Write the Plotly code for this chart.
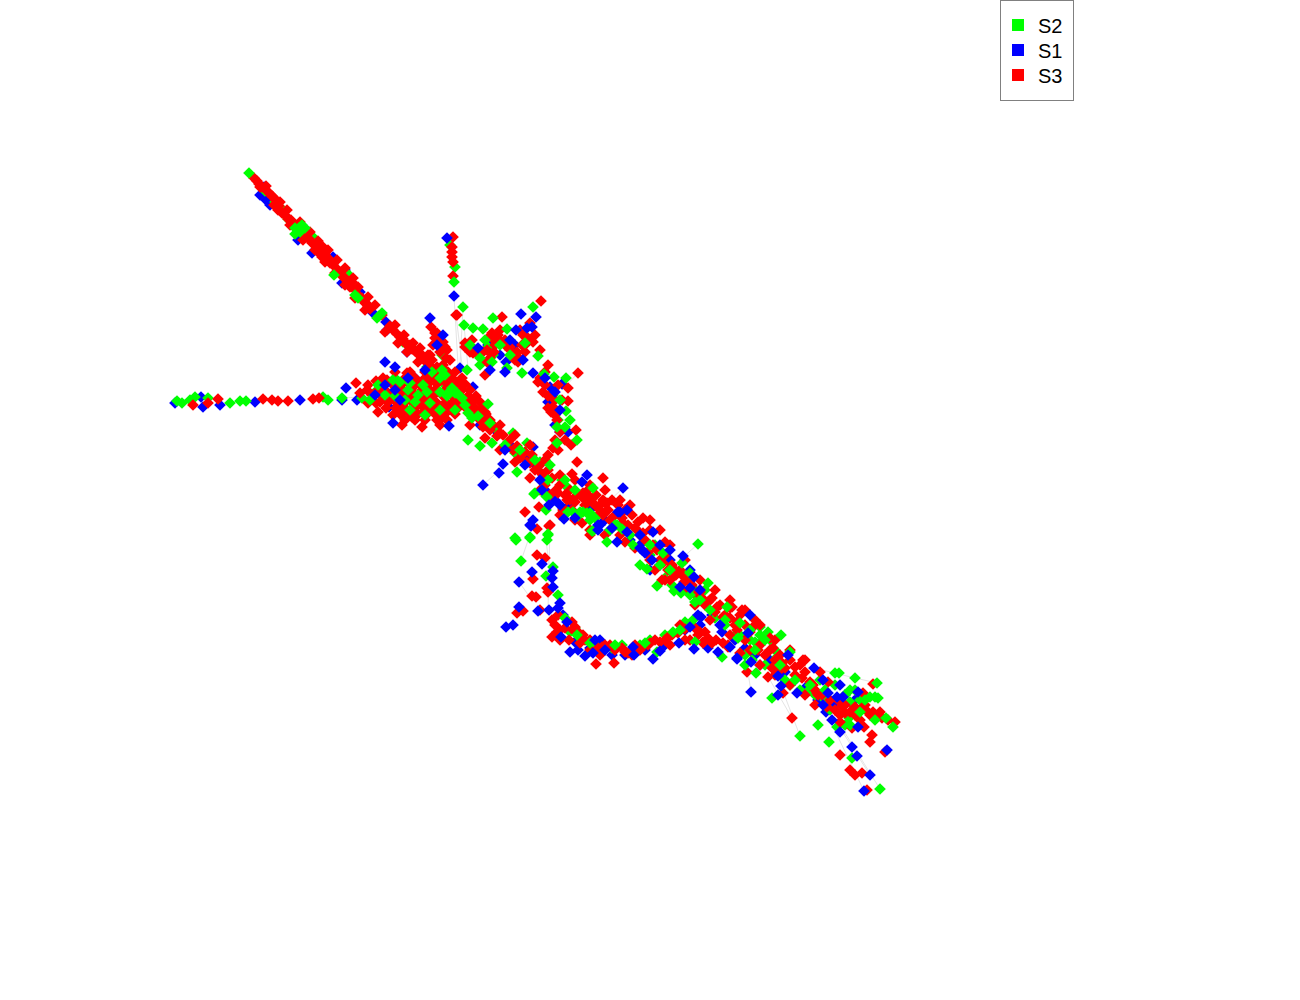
import plotly.graph_objects as go

series_names = ["S2", "S1", "S3"]
series_colors = {"S2": "#00ff00", "S1": "#0000ff", "S3": "#ff0000"}

s1_points = [
(264,187),(260,195),(270,205),(266,200),(298,240),(312,253),(318,245),(333,257),(342,283),(345,270),(360,292),(373,313),(386,322),(387,330),(407,352),(385,362),
(175,403),(201,397),(203,407),(220,405),(255,402),(300,400),(342,400),(346,388),(357,400),
(460,368),(462,384),(473,387),(506,362),(533,373),(562,384),(550,387),(548,402),(568,432),(533,447),(389,407),(402,413),(415,378),(440,380),(425,395),(455,405),(410,395),(500,355),(488,345),(515,345),(555,425),(560,432),
(480,425),(495,430),(510,445),(525,458),(535,465),(545,490),(555,500),(570,505),(590,510),(600,525),(610,530),(620,525),(605,520),(630,540),(640,545),(650,570),(660,565),(670,560),(675,575),(690,570),(700,600),(712,615),(722,632),(735,640),(745,648),(755,655),(760,665),(770,660),(785,672),(795,680),(805,688),(818,700),(826,712),(835,705),(845,695),(855,700),
(563,615),(575,642),(578,650),(590,648),(600,640),(612,655),(625,655),(645,650),(665,645),(685,630),(700,625),(708,648),
]

s1_top_points = [
(395,367),(393,423),(449,426),(447,238),(454,296),(430,318),(443,335),(437,345),(521,314),(536,317),(516,330),(532,327),(503,464),(499,473),(483,485),(587,475),(582,482),(623,488),(627,510),(564,519),(549,505),(533,520),(530,525),(598,525),(620,512),(540,480),(542,490),
(531,526),(575,518),(598,530),(618,512),(653,532),(627,532),(617,542),(642,550),(645,553),(640,548),(670,550),(683,556),(652,560),(694,577),(680,587),(690,588),
(542,564),(532,572),(553,571),(519,582),(552,578),(553,587),(560,603),(558,608),(549,610),(538,611),(519,607),(506,627),(513,625),(561,637),(567,622),(570,652),(585,656),(593,653),(595,640),(605,650),(634,655),(633,647),(653,659),(660,651),(679,643),(694,649),(690,627),(701,617),(698,615),(718,652),(737,659),(730,647),
(751,692),(737,658),(751,662),(748,633),(788,655),(778,676),(781,686),(778,695),(797,693),(814,668),(823,680),(823,705),(828,693),(837,697),(843,697),(832,720),(840,732),(852,747),(857,756),(870,775),(864,791),(887,750),(858,692),(858,727),(720,625),(750,615),(840,685),
(385,385),(395,390),(400,400),(375,395),(408,378),(425,370),(478,348),(510,340),(527,328),(490,370),(505,372),(523,360),(555,392),(545,378),(560,410),(505,450),(525,465),(560,505),(612,528),(640,535),(660,545),(700,590),
]

s2_points = [
(265,191),(275,202),(283,210),(288,219),(312,236),(320,247),(347,273),(427,367),(415,350),(403,342),
(177,401),(182,403),(190,400),(195,397),(208,398),(230,403),(240,401),(246,401),(328,400),(323,397),(342,398),(362,398),(375,392),
(450,245),(455,267),
(480,365),(488,347),(493,355),(507,368),(522,373),(467,370),(442,355),(426,390),(400,397),(413,403),(395,378),(553,395),(495,428),(492,443),(515,453),(540,462),(562,480),(567,487),(513,433),(527,443),(435,378),(445,385),(558,420),
(740,635),(755,642),(763,640),(760,627),(768,632),(777,657),(790,685),(808,691),(820,680),(835,685),(830,710),(850,690),(850,702),(849,718),(837,727),
(650,555),(640,565),(655,545),(665,578),(672,585),(685,575),(695,590),(705,590),(715,618),(725,625),(735,635),(750,640),(760,635),(770,640),(775,650),(745,655),(752,660),(765,665),(785,680),(800,690),(815,695),(825,700),(840,700),(845,725),(860,700),(875,697),
(570,632),(582,640),(595,645),(600,652),(612,648),(622,645),(640,645),(650,640),(665,635),(685,622),(575,628),
]

s2_top_points = [
(249,173),(295,228),(300,232),(302,225),(295,234),(299,228),(305,228),(334,275),(355,295),(358,298),(377,318),(382,313),(379,316),(454,282),
(463,307),(533,307),(493,318),(464,325),(473,328),(483,329),(507,329),(538,356),(544,374),(554,377),(566,378),(488,404),(468,440),(480,446),(577,440),(566,411),(565,427),(557,427),(557,443),(517,472),(535,493),(547,497),(593,488),(515,538),(530,537),(548,535),(580,512),(573,512),(587,513),(615,525),(593,531),
(448,393),(457,393),(452,388),(440,392),(447,396),(455,393),(462,398),(430,403),(415,402),(405,400),(423,385),(410,383),(395,396),(440,378),(442,370),(427,392),(408,390),(393,380),(468,413),(472,418),(478,416),
(534,494),(546,496),(546,510),(548,534),(516,540),(530,538),(547,540),(521,561),(553,567),(546,576),(558,595),(565,618),(577,635),(590,643),(615,645),(645,643),(657,652),(673,632),(680,630),(693,620),(695,642),(722,657),(708,583),(698,544),(657,586),(647,569),(674,591),(681,593),(695,602),(663,553),(682,563),(690,573),(607,542),(592,531),(617,525),(622,529),(633,545),(583,512),(578,516),(568,512),(590,513),(595,518),(670,570),(700,600),(727,607),(740,623),(738,638),
(745,665),(756,673),(781,635),(790,652),(772,698),(818,725),(800,736),(829,742),(852,758),(880,789),(835,673),(839,673),(855,678),(877,683),(878,698),(886,718),(893,727),(870,697),
(385,395),(370,400),(378,385),(400,382),(418,395),(440,410),(425,415),(410,410),(455,410),(465,405),(445,375),(432,372),
(470,345),(485,340),(500,345),(492,362),(480,358),(510,355),(525,343),(560,400),(570,420),
(490,423),(505,445),(520,450),(535,460),(550,465),(548,480),(565,480),(575,490),(590,520),(610,530),(630,535),(650,545),(660,565),(690,595),(710,610),(725,620),(750,630),(755,650),(765,640),(780,665),(795,680),(810,685),(825,690),(845,695),(855,690),(865,700),(850,725),(875,720),(860,712),
]

s3_points = [
(257,181),(260,187),(273,197),(270,194),(278,210),(282,213),(293,223),(295,225),(291,220),(305,234),(312,243),(323,247),(322,257),(318,252),(327,260),(330,263),(340,272),(343,277),(350,287),(352,282),(360,297),(363,300),(368,307),(365,303),(393,330),(397,334),(400,337),(408,345),(412,349),(422,357),(427,363),
(254,178),(259,184),(262,187),(268,192),(272,196),(276,200),(279,206),(285,215),(288,219),(297,228),(299,231),(302,232),(308,238),(311,241),(315,245),(319,249),(325,254),(329,259),(333,264),(336,268),(345,278),(348,283),(355,290),(357,294),(362,298),(366,303),(370,309),(390,326),(403,339),(405,343),(410,347),(415,351),(418,354),(425,360),(430,366),(433,369),(437,373),
(266,186),(280,202),(287,210),(300,222),(310,232),(318,241),(328,250),(337,260),(345,268),(353,278),(358,287),(368,297),(375,305),(382,315),(395,325),(404,335),(413,343),(420,348),(430,355),(274,205),(290,225),(303,240),(315,250),(325,262),(335,273),(345,285),(355,298),(365,310),(385,332),(398,343),(407,352),(418,362),(428,372),
(193,405),(208,403),(218,399),(263,399),(272,400),(278,401),(288,401),(313,399),(319,398),(356,383),(367,390),(376,381),(368,403),(376,403),(387,380),
(453,237),(452,247),(452,252),(452,257),(453,262),(453,276),(456,315),
(541,301),(502,317),(457,315),(530,323),(492,333),(498,335),(465,343),(472,340),(505,345),(527,343),(523,335),(473,353),(478,355),(483,352),(517,352),(518,357),(510,350),(487,362),(485,375),(548,365),(578,373),(538,382),(543,392),(568,388),(568,401),(553,407),(555,415),(576,430),(571,445),(577,462),(558,450),(548,455),(553,448),
(465,347),(470,352),(475,350),(481,353),(487,350),(490,336),(494,340),(500,330),(497,338),(505,340),(510,347),(513,353),(518,362),(522,345),(528,338),(533,342),(525,352),(515,360),(490,358),(494,352),(540,378),(545,385),(548,396),(555,400),(551,412),(557,420),
(495,345),(520,330),(535,335),(540,350),(545,372),(558,385),(562,400),(548,408),(560,432),(565,440),(555,440),
(431,327),(435,338),(440,341),(437,333),(443,342),(433,345),(447,350),(440,352),(446,358),(450,360),(432,360),(428,355),
(603,478),(572,474),(525,512),(539,507),(550,525),(537,529),(582,523),(607,503),(567,500),(563,510),(583,493),(588,497),(558,493),
(540,472),(530,463),(522,453),(508,442),(500,433),(483,427),(473,412),(460,405),(442,418),(448,372),(437,367),(420,353),(410,345),(435,333),(445,347),(407,373),(413,387),(423,403),(412,417),(387,392),(400,407),(433,407),(397,387),(430,390),(452,403),(433,377),(460,380),(480,412),(423,413),(443,365),
(410,372),(425,372),(438,372),(447,372),(455,372),
(405,378),(415,378),(425,378),(432,378),(442,378),(452,378),(462,378),
(385,384),(392,384),(402,384),(410,384),(420,384),(428,384),(437,384),(447,384),(457,384),(465,384),
(378,390),(384,390),(395,390),(403,390),(411,390),(422,390),(435,390),(445,390),(452,390),(462,390),(470,390),
(382,396),(392,396),(398,396),(408,396),(416,396),(425,396),(433,396),(443,396),(452,396),(460,396),(468,396),(476,396),
(380,402),(388,402),(396,402),(405,402),(412,402),(420,402),(428,402),(436,402),(446,402),(455,402),(465,402),(472,402),(480,402),
(386,408),(396,408),(405,408),(415,408),(424,408),(432,408),(441,408),(450,408),(458,408),(466,408),(475,408),(483,408),
(400,414),(410,414),(418,414),(427,414),(435,414),(445,414),(455,414),(470,414),(478,414),(486,414),
(405,420),(415,420),(425,420),(437,420),(447,420),(480,420),(490,420),
(372,395),(368,385),(395,372),(360,393),(383,378),(402,425),(422,427),(440,425),(393,415),(378,412),
(470,410),(476,415),(482,420),(478,412),(485,425),(490,430),(493,425),(497,436),(503,435),(506,447),(510,440),(513,450),(517,446),(520,458),(525,452),(527,462),(532,455),(535,470),(540,465),(543,475),(548,470),(545,485),(552,478),(556,490),(550,495),(560,485),(565,495),(570,490),(575,502),(572,510),(580,495),(585,505),(588,490),(592,502),(596,495),(600,505),(598,515),(603,500),(608,510),(612,500),(615,515),(618,505),(622,518),(625,510),(628,525),(632,515),(635,528),(640,535),(638,522),(645,540),(650,530),(653,545),(648,552),(657,550),(660,560),(655,570),(665,555),(668,570),(672,565),(676,575),(670,580),(680,570),(684,582),(688,590),(692,585),(696,595),(702,598),(705,605),(712,598),(715,612),(720,605),(725,615),(730,608),(735,625),(740,615),(745,625),(750,632),(755,620),(745,640),(750,650),(760,645),(765,655),(770,650),(775,660),(780,655),(785,668),(790,660),(795,675),(800,665),(805,672),(810,682),(815,690),(822,695),(830,700),(835,710),(838,700),(845,705),(850,712),(855,715),(860,720),(865,705),(870,715),(875,715),(880,712),(888,720),
(470,400),(485,412),(500,425),(515,435),(530,445),(545,460),(560,475),(575,480),(590,485),(605,490),(620,500),(630,505),(650,520),(660,530),(670,545),(685,560),(700,580),(715,590),(730,600),(745,610),(760,625),(775,640),(790,650),(805,660),(820,672),
(470,425),(485,438),(500,450),(515,462),(530,478),(540,490),(560,515),(575,520),(590,535),(605,535),(620,535),(635,548),(650,560),(665,580),(680,590),(695,605),(710,620),(730,635),(760,665),(775,675),(790,685),(805,695),(815,705),
(549,526),(537,555),(545,558),(533,579),(547,588),(548,592),(532,596),(536,597),(517,613),(523,611),(540,610),(558,615),(572,622),(573,630),(552,637),(557,632),(569,640),(580,643),(583,635),(596,664),(614,663),(602,647),(610,645),(622,648),(628,653),(642,647),(648,645),(660,642),(668,637),(685,629),(685,640),(698,635),(705,632),(703,643),(712,643),(723,643),(728,647),
(555,625),(560,630),(565,628),(575,627),(578,632),(585,640),(590,650),(598,648),(605,645),(615,650),(625,652),(632,655),(640,650),(650,643),(655,640),(665,640),(672,635),(678,633),(690,640),(695,628),(700,632),(708,638),(716,640),
(552,620),(560,640),(590,640),(600,655),(635,645),(670,645),(680,625),
(563,508),(570,500),(575,497),(583,498),(590,497),(595,505),(605,503),(603,515),(610,520),(590,530),(600,510),(625,542),(623,523),(637,530),(643,518),(643,533),(647,553),(665,542),(663,563),(675,570),(682,575),(662,580),(687,580),(700,590),(710,600),(717,607),(730,618),(723,617),(737,622),
(747,672),(792,718),(840,755),(885,752),(850,770),(855,775),(862,773),(867,790),(872,735),(870,742),(864,727),(852,728),(873,684),(863,693),(895,722),(882,718),(873,712),(868,712),(862,708),(855,707),(842,706),(840,715),(840,722),(828,682),(817,693),(813,685),(802,678),(803,660),(795,667),(782,663),(768,677),(772,668),(758,650),(773,648),(753,627),(742,610),(737,630),(728,645),(740,653),(703,642),(700,592),(708,602),(732,607),(783,693),(818,695),(827,707),(770,638),(780,670),(845,713),
]

edge_segments = [
((751,692),(748,672)),((781,686),(800,736)),((792,718),(770,680)),((864,791),(825,710)),((870,775),(835,720)),((880,789),(840,725)),
((814,668),(855,678)),((855,678),(877,683)),((550,525),(548,610)),((546,540),(552,590)),((521,561),(535,520)),((519,582),(532,600)),
((454,296),(458,365)),((463,307),(460,365)),((464,325),(468,368)),((456,315),(462,365)),((480,446),(500,430)),((483,485),(505,465)),((623,488),(605,505)),((698,544),(680,560)),
((540,301),(525,330)),((578,373),(562,390)),((720,625),(745,640)),((700,630),(725,645)),((420,350),(455,385)),((342,398),(400,395)),
]

edge_x, edge_y = [], []
for a, b in edge_segments:
    edge_x += [a[0], b[0], None]
    edge_y += [a[1], b[1], None]

layers = [("S1", s1_points), ("S2", s2_points), ("S3", s3_points), ("S2", s2_top_points), ("S1", s1_top_points)]

fig = go.Figure()
fig.add_trace(go.Scatter(x=edge_x, y=edge_y, mode="lines", showlegend=False, hoverinfo="skip",
                         line=dict(color="#e4e4e4", width=1)))
for name, pts in layers:
    fig.add_trace(go.Scatter(x=[p[0] for p in pts], y=[p[1] for p in pts], mode="markers", name=name,
                             showlegend=False,
                             marker=dict(symbol="diamond", size=9, color=series_colors[name], line=dict(width=0))))
for rank, name in enumerate(series_names):
    fig.add_trace(go.Scatter(x=[None], y=[None], mode="markers", name=name, legendrank=rank + 1,
                             marker=dict(symbol="square", size=10, color=series_colors[name], line=dict(width=0))))

fig.update_layout(
    width=1300, height=1000, margin=dict(l=0, r=0, t=0, b=0),
    paper_bgcolor="white", plot_bgcolor="white",
    xaxis=dict(range=[0, 1300], visible=False),
    yaxis=dict(range=[1000, 0], visible=False),
    legend=dict(x=1000 / 1300, y=1.0, xanchor="left", yanchor="top", bgcolor="white",
                bordercolor="#808080", borderwidth=1,
                font=dict(family="Liberation Sans, Arial, sans-serif", size=20, color="black"),
                itemsizing="constant", traceorder="normal"),
)
post = """
document.body.style.margin='0';
var items = document.querySelectorAll('.legend .traces');
var ys = [25, 50, 75];
items.forEach(function (g, i) { g.setAttribute('transform', 'translate(-2,' + ys[i] + ')'); });
var bg = document.querySelector('.legend rect.bg');
if (bg) { bg.setAttribute('height', '100'); bg.setAttribute('width', '73'); }
var c = document.querySelectorAll('.legend clipPath rect, .legendclip rect');
c.forEach(function (r) { r.setAttribute('height', '100'); r.setAttribute('width', '73'); });
"""
fig.write_html("out.html", config={"displayModeBar": False}, post_script=post)
